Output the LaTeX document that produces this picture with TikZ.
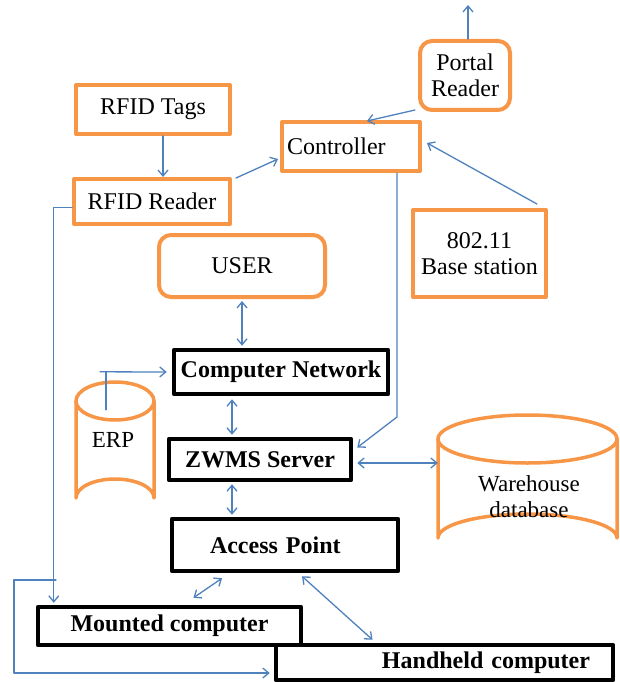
\documentclass[tikz,border=0pt]{standalone}
\usepackage{fontspec}
\setmainfont{Liberation Serif}
\usetikzlibrary{arrows.meta,calc,positioning}

\definecolor{orgline}{RGB}{247,150,70}
\definecolor{blueline}{RGB}{79,129,189}

\begin{document}
\begin{tikzpicture}[
		x=1pt, y=-1pt,
		line cap=round, line join=round,
		>={Straight Barb[length=6pt,width=10pt]},
		% --- box styles ---
		obox/.style={draw=orgline, line width=4pt, fill=white, inner sep=0pt,
			font=\fontsize{24}{26}\selectfont, align=center},
		rbox/.style={obox, rounded corners=12pt},
		bbox/.style={draw=black, line width=4.5pt, fill=white, inner sep=0pt,
			font=\fontsize{24}{26}\selectfont\bfseries, align=center},
		link/.style={draw=blueline, line width=1.3pt},
		drum/.style={draw=orgline, line width=3.5pt}
		]
		
		\useasboundingbox (0,0) rectangle (619,682);
		
		% ---------- Upper sensing part ----------
		\node[obox, minimum width=154, minimum height=49] (tags) at (153,109.5) {RFID Tags};
		\node[obox, minimum width=156, minimum height=45] (reader) at (152,201.5) {RFID Reader};
		\node[obox, minimum height=49, text width=128pt, inner xsep=5pt, align=left] (ctrl) at (351,146.5) {Controller};
		\node[rbox, minimum width=90, minimum height=69] (portal) at (465,75.5) {Portal\\Reader};
		\node[obox, minimum width=133, minimum height=87] (base) at (479.5,253.5) {802.11\\Base station};
		\node[rbox, minimum width=166, minimum height=62] (user) at (242,266) {USER};
		\coordinate (out) at (468,5);
		
		% ---------- Central column ----------
		\node[bbox, minimum width=214, minimum height=44] (net) at (281,372) {Computer Network};
		\node[bbox, minimum width=182, minimum height=41] (zwms) at (260,459.5) {ZWMS Server};
		\node[bbox, minimum height=52, text width=150pt, inner xsep=38pt, align=left] (ap) at (285,545) {Access Point};
		
		% ---------- Terminals ----------
		\node[bbox, minimum height=35, text width=291pt, inner xsep=23pt, align=right] (hand) at (444.5,662.5) {Handheld computer};
		\node[bbox, minimum width=263, minimum height=38] (mount) at (169.5,626) {Mounted computer};
		
		% ---------- Databases (drums) ----------
		\node[minimum width=78, minimum height=135, inner sep=0pt] (erp) at (115,449.5) {};
		\draw[drum] (76,401) -- (76,498) arc[start angle=180, end angle=360, x radius=39, y radius=19] -- (154,401);
		\draw[drum] (115,401) ellipse[x radius=39, y radius=19];
		\node[font=\fontsize{23}{26}\selectfont] at (113,440) {ERP};
		
		\node[minimum width=179, minimum height=147, inner sep=0pt] (wh) at (527.5,488.5) {};
		\draw[drum] (438,439) -- (438,538) arc[start angle=180, end angle=360, x radius=89.5, y radius=24] -- (617,439);
		\draw[drum] (527.5,439) ellipse[x radius=89.5, y radius=24];
		\node[font=\fontsize{23}{26}\selectfont, align=center] at (529,497) {Warehouse\\database};
		
		% ---------- Connectors ----------
		\draw[link,->] ([xshift=10pt]tags.south) -- ([xshift=11pt]reader.north);
		\draw[link,->] ([xshift=4pt,yshift=-1pt]reader.north east) -- ([xshift=-2pt,yshift=-12.5pt]ctrl.west);
		\draw[link,->] ([xshift=-3pt,yshift=2pt]portal.south west) -- ([xshift=16pt,yshift=-1pt]ctrl.north);
		\draw[link,->] ([xshift=3pt]portal.north) -- (out);
		\draw[link,->] ([xshift=-11pt,yshift=4pt]base.north east) -- ([xshift=5pt,yshift=3.5pt]ctrl.east);
		\draw[link,->] ([xshift=46pt]ctrl.south) -- ++(0,244) -- ([xshift=4pt,yshift=12pt]zwms.east);
		
		\draw[link,<->] ([yshift=-2pt]user.south) -- ([yshift=2pt]user.south |- net.north);
		\draw[link,<->] ([xshift=-49pt,yshift=-3pt]net.south) -- ([xshift=-49pt,yshift=2pt]net.south |- zwms.north);
		\draw[link,<->] ([xshift=-28pt,yshift=-2pt]zwms.south) -- ([xshift=-28pt,yshift=2pt]zwms.south |- ap.north);
		\draw[link,<->] ([xshift=4pt,yshift=-3.5pt]zwms.east) -- ([yshift=-3.5pt]zwms.east -| wh.west);
		
		% ERP feed into the network
		\draw[link] ($(erp.north)+(-9,28)$) -- ($(erp.north)+(-9,-10)$);
		\draw[link,->] ($(erp.north)+(-15,-10)$) -- ([xshift=-5pt]net.west);
		
		% access point to terminals
		\draw[link,<->] ([xshift=-63pt,yshift=-5pt]ap.south) -- ([xshift=24pt,yshift=7pt]mount.north);
		\draw[link,<->] ([xshift=17pt,yshift=-3pt]ap.south) -- ([xshift=-72pt,yshift=3pt]hand.north);
		
		% reader to terminals
		\coordinate (split) at (56,580);
		\draw[link,->] ([yshift=-6pt]reader.west) -| ($(mount.north west)+(18,-2)$);
		\draw[link,->] (split) -| (14,673) -- ([xshift=-4pt,yshift=-10.5pt]hand.west);
		
	\end{tikzpicture}
\end{document}
